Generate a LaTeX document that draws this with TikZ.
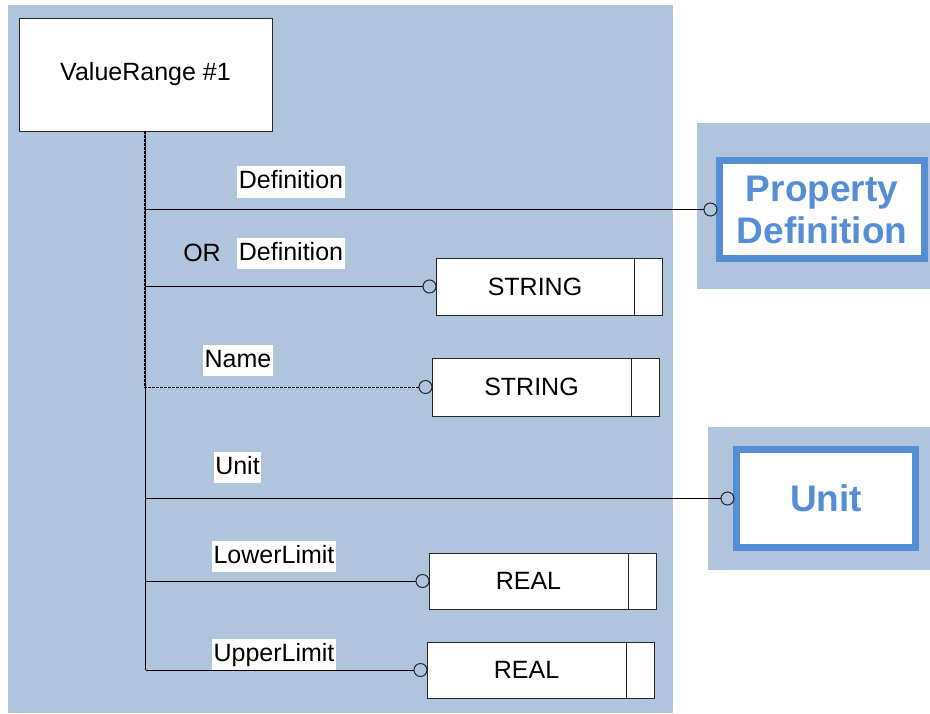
\documentclass[tikz,border=0pt]{standalone}
\usepackage{fontspec}
\setmainfont{Liberation Sans}
\definecolor{bgblue}{RGB}{176,196,222}
\definecolor{accent}{RGB}{85,142,213}
\definecolor{edge}{RGB}{40,40,40}
\tikzset{
  entity/.style={draw=edge, fill=white, line width=1pt, inner sep=0pt, outer sep=0pt,
    font=\fontsize{25}{30}\selectfont},
  cellbox/.style={draw=edge, fill=white, line width=1pt, inner sep=0pt, outer sep=0pt,
    minimum width=28pt},
  refbox/.style={draw=accent, line width=7pt, fill=white, text=accent, inner sep=0pt,
    align=center, font=\bfseries\fontsize{37}{42}\selectfont},
  endc/.style={circle, draw=edge, line width=1pt, minimum size=13pt, inner sep=0pt, outer sep=0pt},
  conn/.style={draw=black, line width=1pt},
  lbl/.style={fill=white, inner xsep=1.5pt, inner ysep=4pt, text height=18.5pt, text depth=5pt,
    font=\fontsize{25}{30}\selectfont},
  plaintxt/.style={inner sep=0pt, font=\fontsize{25}{30}\selectfont}
}
\begin{document}
\begin{tikzpicture}[x=1pt,y=-1pt]
\useasboundingbox (0,0) rectangle (930,713);
% backgrounds
\fill[bgblue] (8,5) rectangle (673,713);
\fill[bgblue] (697,123) rectangle (930,289);
\fill[bgblue] (708,427) rectangle (930,570);

% main entity
\node[entity, minimum width=253pt, minimum height=113pt] (vr) at (145.5,74.5) {ValueRange \#1};

% referenced entities
\node[refbox, minimum width=205pt, minimum height=98pt] (pd) at (822,209.5) {Property\\Definition};
\node[refbox, minimum width=179pt, minimum height=98pt] (un) at (826,498.5) {Unit};

% type boxes
\node[entity, minimum width=198pt, minimum height=57pt] (s1) at (535,286.5) {STRING};
\node[cellbox, minimum height=57pt, anchor=west] (s1c) at (s1.east) {};
\node[entity, minimum width=199pt, minimum height=58pt] (s2) at (531.5,387) {STRING};
\node[cellbox, minimum height=58pt, anchor=west] (s2c) at (s2.east) {};
\node[entity, minimum width=199pt, minimum height=56pt] (r1) at (528.5,581) {REAL};
\node[cellbox, minimum height=56pt, anchor=west] (r1c) at (r1.east) {};
\node[entity, minimum width=199pt, minimum height=56pt] (r2) at (526.5,670) {REAL};
\node[cellbox, minimum height=56pt, anchor=west] (r2c) at (r2.east) {};

% end circles
\node[endc, anchor=east] (c0) at ([xshift=1pt]pd.west) {};
\node[endc, anchor=east] (c1) at (s1.west) {};
\node[endc, anchor=east] (c2) at (s2.west) {};
\node[endc, anchor=east] (c3) at ([xshift=1pt]un.west) {};
\node[endc, anchor=east] (c4) at (r1.west) {};
\node[endc, anchor=east] (c5) at (r2.west) {};

% trunk
\coordinate (tr) at (vr.south);
\draw[conn] (tr) -- (tr |- c5.west);
\draw[conn, dash pattern=on 3pt off 1pt] (c2.west) -- ([xshift=-1pt]c2.west -| tr) -- ([xshift=-1pt]tr);

% branches
\draw[conn] (c0.west) -- (c0.west -| tr);
\draw[conn] (c1.west) -- (c1.west -| tr);
\draw[conn] (c3.west) -- (c3.west -| tr);
\draw[conn] (c4.west) -- (c4.west -| tr);
\draw[conn] (c5.west) -- (c5.west -| tr);

% labels
\node[lbl] (l1) at (291,182) {Definition};
\node[plaintxt] (orx) at (202,253) {OR};
\node[lbl] (l2) at (291,253.5) {Definition};
\node[lbl] (l3) at (238,360.5) {Name};
\node[lbl] (l4) at (237.5,467.5) {Unit};
\node[lbl] (l5) at (274,556.5) {LowerLimit};
\node[lbl] (l6) at (274,654.5) {UpperLimit};
\end{tikzpicture}
\end{document}
